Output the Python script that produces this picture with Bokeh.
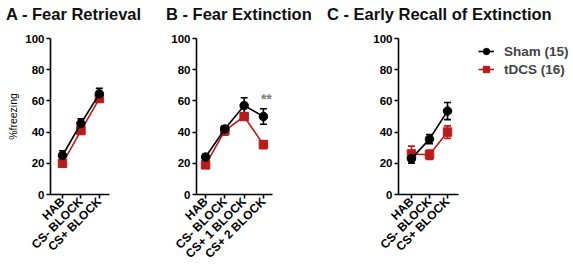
import numpy as np
from bokeh.plotting import figure
from bokeh.layouts import row, column
from bokeh.models import (ColumnDataSource, Whisker, TeeHead, FixedTicker, Legend, LegendItem, Title, Div)
from bokeh.core.properties import value
from bokeh.embed import file_html
from bokeh.resources import INLINE

# ---- data ----
titles = ["A - Fear Retrieval", "B - Fear Extinction", "C - Early Recall of Extinction"]
cats_a = ["HAB", "CS- BLOCK", "CS+ BLOCK"]
cats_b = ["HAB", "CS- BLOCK", "CS+ 1 BLOCK", "CS+ 2 BLOCK"]
cats_c = ["HAB", "CS- BLOCK", "CS+ BLOCK"]

sham_a = [25, 45.5, 64.5]
sham_a_err = [3, 3, 3.5]
tdcs_a = [20, 41, 61.5]
tdcs_a_err = [2, 2, 2]

sham_b = [24, 42, 57, 50]
sham_b_err = [2, 2, 5, 5]
tdcs_b = [19, 41, 50, 32]
tdcs_b_err = [2, 3, 2, 2.5]

sham_c = [23, 35.5, 53.5]
sham_c_err = [3, 3, 5.5]
tdcs_c = [26, 25.5, 40]
tdcs_c_err = [5, 3, 4]

yticks = [0, 20, 40, 60, 80, 100]
ylabel = "%freezing"
legend_labels = ["Sham (15)", "tDCS (16)"]
sig_text = "**"

FONT = "Liberation Sans"
BLACK = "#000000"
RED = "#B71C1C"
TITLE_H = 26
FIG_H = 268 - TITLE_H


def make_panel(cats, sham, sham_err, tdcs, tdcs_err, width, left, right, xr, xbounds=None):
    p = figure(width=width, height=FIG_H, output_backend="svg", toolbar_location=None,
               x_range=xr, y_range=(0, 100), min_border_left=left, min_border_right=right,
               min_border_top=38 - TITLE_H, min_border_bottom=73)
    p.title = None
    p.outline_line_color = None
    p.xgrid.visible = False
    p.ygrid.visible = False
    p.background_fill_color = "white"
    p.border_fill_color = "white"

    xs = list(range(len(cats)))
    for ax in (p.xaxis[0], p.yaxis[0]):
        ax.axis_line_width = 1.6
        ax.axis_line_color = "black"
        ax.major_tick_line_width = 1.6
        ax.major_tick_out = 4
        ax.major_tick_in = 0
        ax.minor_tick_out = 0
        ax.minor_tick_in = 0
        ax.major_label_text_font = FONT
        ax.major_label_text_font_style = "bold"
        ax.major_label_text_color = "black"
        ax.major_label_standoff = 2
    p.xaxis.major_label_standoff = 1
    p.yaxis.major_label_text_font_size = "11.5px"
    p.xaxis.major_label_text_font_size = "12px"
    p.yaxis.ticker = FixedTicker(ticks=yticks)
    p.xaxis.ticker = FixedTicker(ticks=xs)
    p.xaxis.major_label_overrides = {i: c for i, c in enumerate(cats)}
    p.xaxis.major_label_orientation = np.pi / 4
    if xbounds is not None:
        p.xaxis.bounds = xbounds

    rends = []
    for vals, errs, col, marker in ((tdcs, tdcs_err, RED, "square"), (sham, sham_err, BLACK, "circle")):
        src = ColumnDataSource(dict(x=xs, y=vals,
                                    lo=[v - e for v, e in zip(vals, errs)],
                                    hi=[v + e for v, e in zip(vals, errs)]))
        w = Whisker(source=src, base="x", upper="hi", lower="lo", line_color=col, line_width=1.6,
                    upper_head=TeeHead(size=7, line_color=col, line_width=1.6),
                    lower_head=TeeHead(size=7, line_color=col, line_width=1.6))
        p.add_layout(w)
        l = p.line("x", "y", source=src, line_color=col, line_width=1.6)
        m = p.scatter("x", "y", source=src, marker=marker, size=8.5, fill_color=col, line_color=col)
        rends.append((l, m))
    return p, rends


def title_div(text, width, left):
    return Div(text=text, width=width - left, height=TITLE_H, margin=(0, 0, 0, left),
               styles={"font-family": FONT, "font-size": "16.5px", "font-weight": "bold",
                       "color": "#111111", "line-height": "29px", "white-space": "nowrap",
                       "overflow": "visible"})


pa, _ = make_panel(cats_a, sham_a, sham_a_err, tdcs_a, tdcs_a_err, 160, 50, 51, (-0.65, 2.55))
pa.add_layout(Title(text=ylabel, align="center", offset=13, text_font=FONT, text_font_size="10.5px",
                    text_font_style="normal", text_color="#000000", standoff=8), "left")

pb, _ = make_panel(cats_b, sham_b, sham_b_err, tdcs_b, tdcs_b_err, 165, 36, 53, (-0.47, 3.47))
pb.text(x=[3.15], y=[61], text=[sig_text], text_font=value(FONT), text_font_size="14px",
        text_font_style="bold", text_color="#808080", text_align="center", text_baseline="middle")

# panel C: frame extends to the right edge so the legend sits inside it; axis line limited by bounds
pc, rc = make_panel(cats_c, sham_c, sham_c_err, tdcs_c, tdcs_c_err, 248, 73, 0, (-0.72, 8.99),
                    xbounds=(-0.72, 2.61))

legend = Legend(items=[LegendItem(label=legend_labels[0], renderers=list(rc[1])),
                       LegendItem(label=legend_labels[1], renderers=list(rc[0]))],
                location=(80, 116), padding=0, margin=0, spacing=0,
                label_height=18, glyph_height=18, glyph_width=16, label_standoff=10,
                label_text_font=FONT, label_text_font_size="13.5px", label_text_font_style="bold",
                border_line_color=None, background_fill_alpha=0)
pc.add_layout(legend)

heads = row(title_div(titles[0], 160, 6), title_div(titles[1], 165, 6), title_div(titles[2], 248, 2),
            spacing=0)
layout = column(heads, row(pa, pb, pc, spacing=0), spacing=0)

open("out.html", "w").write(file_html(layout, INLINE))
